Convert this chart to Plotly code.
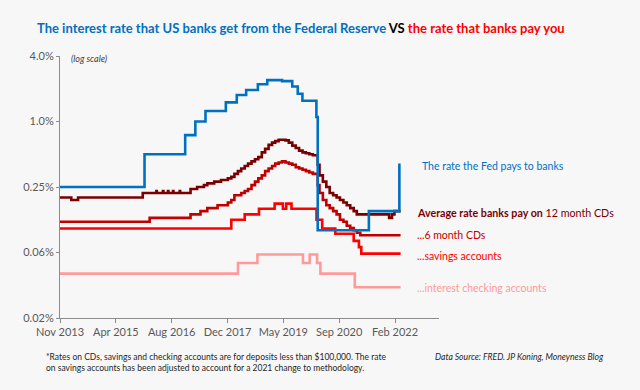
import math
import pandas as pd
import plotly.graph_objects as go

# ---------------- data ----------------
fed_dates = ["2013-11-20", "2015-12-17", "2016-12-15", "2017-03-16", "2017-06-15",
             "2017-12-14", "2018-03-22", "2018-06-14", "2018-09-27", "2018-12-20",
             "2019-05-02", "2019-08-01", "2019-09-19", "2019-10-31", "2020-03-04",
             "2020-03-16", "2021-06-17", "2022-03-17", "2022-03-28"]
fed_rate = [0.25, 0.50, 0.75, 1.00, 1.25, 1.50, 1.75, 1.95, 2.20, 2.40,
            2.35, 2.10, 1.80, 1.55, 1.10, 0.10, 0.15, 0.40, 0.40]

cd12_dates = ["2013-11-01", "2014-03-01", "2014-05-01", "2015-12-01",
              "2016-04-01", "2016-04-05", "2016-05-30", "2016-06-03", "2016-07-14", "2016-07-18",
              "2016-08-28", "2016-09-01", "2016-10-27", "2016-10-31",
              "2017-02-01", "2017-04-01", "2017-06-01", "2017-07-01", "2017-09-01", "2017-11-01",
              "2018-01-01", "2018-02-01", "2018-03-01", "2018-04-01", "2018-05-01", "2018-06-01",
              "2018-07-01", "2018-08-01", "2018-09-01", "2018-10-01", "2018-11-01", "2018-12-01",
              "2019-01-01", "2019-02-01", "2019-03-01", "2019-04-01", "2019-06-01", "2019-07-01",
              "2019-08-01", "2019-09-01", "2019-10-01", "2019-11-01", "2019-12-01", "2020-01-01",
              "2020-02-01", "2020-03-16", "2020-04-01", "2020-05-01", "2020-06-01", "2020-07-01",
              "2020-08-01", "2020-09-01", "2020-10-01", "2020-11-01", "2020-12-01", "2021-01-01",
              "2021-02-01", "2021-03-01", "2021-12-15", "2022-01-10", "2022-02-01", "2022-03-28"]
cd12_rate = [0.20, 0.19, 0.20, 0.22,
             0.23, 0.22, 0.23, 0.22, 0.23, 0.22,
             0.23, 0.22, 0.23, 0.22,
             0.24, 0.25, 0.26, 0.27, 0.28, 0.29,
             0.30, 0.31, 0.33, 0.35, 0.37, 0.39,
             0.41, 0.43, 0.45, 0.47, 0.52, 0.56,
             0.61, 0.64, 0.66, 0.68, 0.67, 0.64,
             0.60, 0.57, 0.54, 0.52, 0.51, 0.50,
             0.49, 0.40, 0.32, 0.28, 0.25, 0.22,
             0.21, 0.20, 0.19, 0.18, 0.17, 0.16,
             0.15, 0.14, 0.13, 0.14, 0.15, 0.15]

cd6_dates = ["2013-11-01", "2016-02-01", "2017-02-01", "2017-05-01", "2017-07-01", "2017-10-01",
             "2018-01-01", "2018-02-01", "2018-03-01", "2018-05-01", "2018-06-01", "2018-07-01",
             "2018-08-01", "2018-09-01", "2018-10-01", "2018-11-01", "2018-12-01", "2019-01-01",
             "2019-02-01", "2019-03-01", "2019-04-01", "2019-05-01", "2019-06-01", "2019-07-01",
             "2019-08-01", "2019-09-01", "2019-10-01", "2019-11-01", "2019-12-01", "2020-01-01",
             "2020-02-01", "2020-03-16", "2020-04-01", "2020-05-01", "2020-06-01", "2020-07-01",
             "2020-08-01", "2020-09-01", "2020-10-01", "2020-11-01", "2020-12-01", "2021-01-01",
             "2021-02-01", "2021-03-01", "2021-04-01", "2022-03-28"]
cd6_rate = [0.12, 0.13, 0.14, 0.15, 0.16, 0.17,
            0.18, 0.19, 0.21, 0.22, 0.23, 0.24,
            0.26, 0.28, 0.30, 0.32, 0.35, 0.37,
            0.39, 0.41, 0.42, 0.43, 0.42, 0.41,
            0.40, 0.38, 0.37, 0.36, 0.35, 0.34,
            0.33, 0.26, 0.22, 0.19, 0.17, 0.16,
            0.15, 0.14, 0.125, 0.12, 0.11, 0.105,
            0.10, 0.095, 0.09, 0.09]

savings_dates = ["2013-11-01", "2018-02-01", "2018-06-01", "2018-10-07", "2019-02-24",
                 "2019-05-09", "2019-06-08", "2019-07-25", "2020-03-05", "2020-04-25",
                 "2020-08-20", "2021-02-01", "2021-03-20", "2021-04-10", "2022-03-28"]
savings_rate = [0.104, 0.125, 0.14, 0.158, 0.176,
                0.158, 0.176, 0.158, 0.125, 0.104,
                0.093, 0.080, 0.070, 0.061, 0.061]

checking_dates = ["2013-11-01", "2018-04-02", "2018-09-23", "2019-11-05", "2020-01-04",
                  "2020-03-10", "2020-04-09", "2021-02-11", "2022-03-28"]
checking_rate = [0.04, 0.05, 0.06, 0.05, 0.06, 0.05, 0.04, 0.03, 0.03]

x_tick_labels = ["Nov 2013", "Apr 2015", "Aug 2016", "Dec 2017", "May 2019", "Sep 2020", "Feb 2022"]
y_tick_values = [0.015625, 0.0625, 0.25, 1.0, 4.0]
y_tick_labels = ["0.02%", "0.06%", "0.25%", "1.0%", "4.0%"]

# ---------------- styling ----------------
FONT = "Lato"
BG = "#f7f7f7"
AXIS = "#8c8c8c"
TICKTXT = "#595959"
BLUE = "#0070C0"
MAROON = "#7a0000"
DARKRED = "#c00000"
RED = "#ff0000"
PINK = "#ff9a9a"

axis_start = pd.Timestamp("2013-11-20")
axis_end = pd.Timestamp("2023-03-07")
x_tick_vals = [axis_start + pd.Timedelta(days=500 * i) for i in range(len(x_tick_labels))]

W, H = 640, 390
L, R, T, B = 60, 201, 56, 72
def px(x):
    return (x - L) / (W - L - R)
def py(y):
    return (H - B - y) / (H - T - B)

fig = go.Figure()
series = [
    (checking_dates, checking_rate, PINK, "checking"),
    (savings_dates, savings_rate, RED, "savings"),
    (cd6_dates, cd6_rate, DARKRED, "6m CD"),
    (cd12_dates, cd12_rate, MAROON, "12m CD"),
    (fed_dates, fed_rate, BLUE, "Fed"),
]
for d, v, c, n in series:
    fig.add_trace(go.Scatter(x=d, y=v, mode="lines", name=n,
                             line=dict(color=c, width=2.6, shape="hv"),
                             hoverinfo="skip"))

fig.update_layout(
    width=W, height=H,
    margin=dict(l=L, r=R, t=T, b=B, autoexpand=False),
    paper_bgcolor=BG, plot_bgcolor=BG,
    showlegend=False,
    font=dict(family=FONT, color=TICKTXT),
)
fig.update_xaxes(
    type="date", range=[axis_start, axis_end],
    tickvals=x_tick_vals, ticktext=x_tick_labels,
    showline=True, linecolor=AXIS, linewidth=1,
    ticks="outside", ticklen=4, tickcolor=AXIS, tickwidth=1,
    showgrid=False, zeroline=False, automargin=False,
    tickfont=dict(family=FONT, size=11, color=TICKTXT),
)
fig.update_yaxes(
    type="log", range=[math.log10(y_tick_values[0]), math.log10(y_tick_values[-1])],
    tickvals=y_tick_values, ticktext=y_tick_labels,
    showline=True, linecolor=AXIS, linewidth=1,
    ticks="outside", ticklen=3, tickcolor=AXIS, tickwidth=1,
    showgrid=False, zeroline=False, automargin=False,
    tickfont=dict(family=FONT, size=11, color=TICKTXT),
)

ann = []
ann.append(dict(
    text=("<b><span style='color:#0070C0'>The interest rate that US banks get from the Federal Reserve</span>"
          " <span style='color:#000000'>VS</span> "
          "<span style='color:#ff0000'>the rate that banks pay you</span></b>"),
    x=px(35), y=py(28), xanchor="left", yanchor="middle",
    font=dict(family=FONT, size=13)))
ann.append(dict(text="<i>(log scale)</i>", x=px(69), y=py(58), xanchor="left", yanchor="middle",
                font=dict(family=FONT, size=9, color="#404040")))
ann.append(dict(text="The rate the Fed pays to banks", x=px(420), y=py(166), xanchor="left",
                yanchor="middle", font=dict(family=FONT, size=10.5, color=BLUE)))
ann.append(dict(text="<b>Average rate banks pay on</b> 12 month CDs", x=px(415), y=py(212),
                xanchor="left", yanchor="middle", font=dict(family=FONT, size=10.7, color=MAROON)))
ann.append(dict(text="...6 month CDs", x=px(415), y=py(235), xanchor="left", yanchor="middle",
                font=dict(family=FONT, size=10.5, color=DARKRED)))
ann.append(dict(text="...savings accounts", x=px(415), y=py(256), xanchor="left", yanchor="middle",
                font=dict(family=FONT, size=10.5, color=RED)))
ann.append(dict(text="...interest checking accounts", x=px(415), y=py(288), xanchor="left",
                yanchor="middle", font=dict(family=FONT, size=10.5, color=PINK)))
ann.append(dict(text=("*Rates on CDs, savings and checking accounts are for deposits less than $100,000. The rate"
                      "<br>on savings accounts has been adjusted to account for a 2021 change to methodology."),
                x=px(44), y=py(362.5), xanchor="left", yanchor="middle", align="left",
                font=dict(family=FONT, size=8.5, color="#262626")))
ann.append(dict(text="<i>Data Source: FRED. JP Koning, Moneyness Blog</i>", x=px(433), y=py(357),
                xanchor="left", yanchor="middle", font=dict(family=FONT, size=8.6, color="#262626")))
for a in ann:
    a.update(xref="paper", yref="paper", showarrow=False)
fig.update_layout(annotations=ann)

fig.write_html("out.html", config={"displayModeBar": False},
               post_script="document.body.style.margin='0px';document.body.style.padding='0px';")
